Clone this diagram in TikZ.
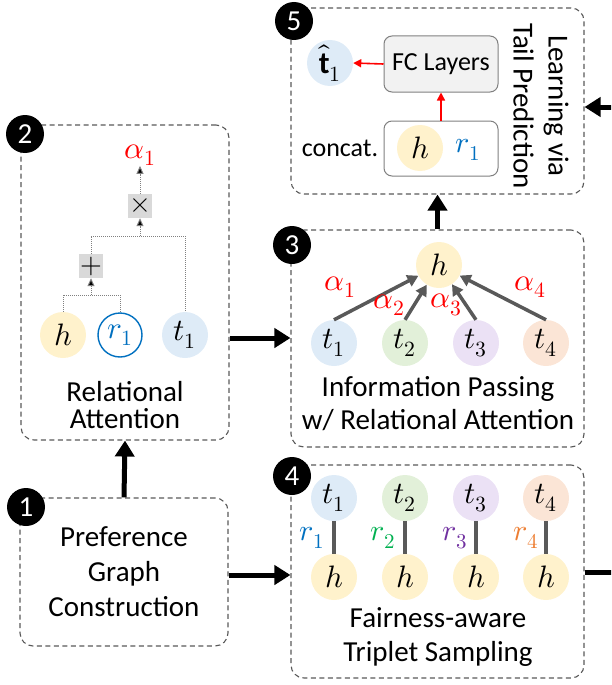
\documentclass[tikz,border=0pt]{standalone}
\usepackage{fontspec}
\usepackage{unicode-math}
\setmainfont{Carlito}
\setmathfont{Latin Modern Math}
\usetikzlibrary{arrows.meta,calc}
\definecolor{hY}{HTML}{FFF2CC}
\definecolor{tB}{HTML}{DEEBF7}
\definecolor{tG}{HTML}{E2F0D9}
\definecolor{tP}{HTML}{EBE1F5}
\definecolor{tO}{HTML}{FBE5D6}
\definecolor{rB}{HTML}{0070C0}
\definecolor{rG}{HTML}{00B050}
\definecolor{rP}{HTML}{7030A0}
\definecolor{rO}{HTML}{ED7D31}
\definecolor{dg}{HTML}{595959}
\definecolor{fcF}{HTML}{F2F2F2}
\definecolor{opF}{HTML}{D9D9D9}
\begin{document}
\begin{tikzpicture}[x=1pt,y=-1pt,
  panel/.style={draw=dg, dash pattern=on 5pt off 3.5pt, line width=1.1pt, rounded corners=13pt, inner sep=0pt},
  badge/.style={circle, fill=black, text=white, minimum size=38pt, inner sep=0pt, font=\fontsize{29}{29}\selectfont},
  ent/.style={circle, minimum size=46pt, inner sep=0pt, font=\fontsize{31}{31}\selectfont},
  lbl/.style={align=center, inner sep=0pt, font=\fontsize{29}{33}\selectfont},
  alab/.style={text=red, inner sep=0pt, font=\fontsize{31}{31}\selectfont},
  rlab/.style={inner sep=0pt, font=\fontsize{30}{30}\selectfont},
  bigarrow/.style={line width=5pt, -{Triangle[length=16pt,width=19pt]}},
  grayarrow/.style={draw=dg, line width=3.5pt, -{Triangle[length=11pt,width=12pt]}},
  grayline/.style={draw=dg, line width=4pt},
  redarrow/.style={draw=red, line width=1.6pt, -{Triangle[length=8pt,width=8pt]}},
  dotline/.style={draw=gray, line width=1pt, dash pattern=on 1pt off 1pt},
  dotarrow/.style={dotline, -{Triangle[length=8pt,width=7pt,fill=black]}},
  opbox/.style={fill=opF, minimum size=24pt, inner sep=0pt, font=\fontsize{28}{28}\selectfont},
  fcbox/.style={rounded corners=8pt, draw=gray, line width=1pt, minimum width=114pt, inner sep=0pt}
]
\useasboundingbox (0,0) rectangle (611,685);
\clip (0,0) rectangle (611,685);

% panels
\node[panel, minimum width=293pt, minimum height=186pt] (p5) at (437.5,101) {};
\node[panel, minimum width=208pt, minimum height=315pt] (p2) at (125,282.5) {};
\node[panel, minimum width=293pt, minimum height=217pt] (p3) at (437.5,338.5) {};
\node[panel, minimum width=208pt, minimum height=148pt] (p1) at (124,572) {};
\node[panel, minimum width=293pt, minimum height=213pt] (p4) at (437.5,571.5) {};

% badges
\node[badge] (b5) at (294,21) {5};
\node[badge] (b2) at (25,134) {2};
\node[badge] (b3) at (292,245) {3};
\node[badge] (b4) at (292,476) {4};
\node[badge] (b1) at (26,507) {1};

% ---- panel 5
\node[ent, fill=tB] (that) at (330,63) {$\hat{\mathbf{t}}_1$};
\node[fcbox, fill=fcF, minimum height=56pt, font=\fontsize{26}{26}\selectfont] (fc) at (441,64) {FC Layers};
\node[fcbox, fill=white, minimum height=55pt] (cc) at (441,148.5) {};
\node[ent, fill=hY] (hc) at (420,148) {$h$};
\node[rlab, text=rB] (rc) at (468,150) {$r_1$};
\node[inner sep=0pt, font=\fontsize{26}{26}\selectfont] (cl) at (340,148) {concat.};
\draw[redarrow] (fc.west) -- (that.east);
\draw[redarrow] (cc.north) -- (fc.south);
\node[lbl, rotate=-90, font=\fontsize{29}{35}\selectfont] (ltp) at (541,106) {Learning via\\Tail Prediction};

% ---- panel 2
\node[alab] (a21) at (140,155) {$\alpha_1$};
\node[opbox] (mul) at (140,206) {$\times$};
\node[opbox] (plus) at (91,266) {$+$};
\node[ent, fill=hY] (h2) at (63,335) {$h$};
\node[ent, draw=rB, line width=1.4pt, fill=white, text=rB, minimum size=44pt] (r2) at (120,335) {$r_1$};
\node[ent, fill=tB] (t2) at (185,335) {$t_1$};
\coordinate (j1) at (91,295);
\coordinate (j2) at (140,236);
\draw[dotline] (h2.north) -- (h2.north |- j1) -| (r2.north);
\draw[dotarrow] (j1) -- (plus.south);
\draw[dotline] (plus.north) -- (plus.north |- j2) -| (t2.north);
\draw[dotarrow] (j2) -- (mul.south);
\draw[dotarrow] (mul.north) -- (a21.south);
\node[lbl, font=\fontsize{29}{27}\selectfont] (ra) at (125,405) {Relational\\Attention};

% ---- panel 3
\node[ent, fill=hY] (h3) at (439,265) {$h$};
\node[ent, fill=tB] (t31) at (334,343) {$t_1$};
\node[ent, fill=tG] (t32) at (405,343) {$t_2$};
\node[ent, fill=tP] (t33) at (476,343) {$t_3$};
\node[ent, fill=tO] (t34) at (546,343) {$t_4$};
\draw[grayarrow] (t31.north) -- (h3);
\draw[grayarrow] (t32.north) -- (h3);
\draw[grayarrow] (t33.north) -- (h3);
\draw[grayarrow] (t34.north) -- (h3);
\node[alab] (a31) at (340,287) {$\alpha_1$};
\node[alab] (a32) at (389,305) {$\alpha_2$};
\node[alab] (a33) at (446,305) {$\alpha_3$};
\node[alab] (a34) at (530,287) {$\alpha_4$};
\node[lbl] (ip) at (438,403.5) {Information Passing\\w/ Relational Attention};

% ---- panel 4
\node[ent, fill=tB] (u1) at (334,498) {$t_1$};
\node[ent, fill=tG] (u2) at (405,498) {$t_2$};
\node[ent, fill=tP] (u3) at (476,498) {$t_3$};
\node[ent, fill=tO] (u4) at (546,498) {$t_4$};
\node[ent, fill=hY] (v1) at (334,577) {$h$};
\node[ent, fill=hY] (v2) at (405,577) {$h$};
\node[ent, fill=hY] (v3) at (476,577) {$h$};
\node[ent, fill=hY] (v4) at (546,577) {$h$};
\draw[grayline] (u1.south) -- (v1.north);
\draw[grayline] (u2.south) -- (v2.north);
\draw[grayline] (u3.south) -- (v3.north);
\draw[grayline] (u4.south) -- (v4.north);
\node[rlab, text=rB] (s1) at (312,538) {$r_1$};
\node[rlab, text=rG] (s2) at (383,538) {$r_2$};
\node[rlab, text=rP] (s3) at (455,538) {$r_3$};
\node[rlab, text=rO] (s4) at (526,538) {$r_4$};
\node[lbl, font=\fontsize{29}{34}\selectfont] (fa) at (438,637) {Fairness-aware\\Triplet Sampling};

% ---- panel 1
\node[lbl, font=\fontsize{29}{35}\selectfont] (pg) at (124,572) {Preference\\Graph\\Construction};

% ---- big arrows
\coordinate (y23) at (0,338);
\coordinate (y14) at (0,575);
\coordinate (y45) at (0,572);
\coordinate (y5) at (0,107);
\coordinate (xr) at (640,0);
\draw[bigarrow] (p1.north) -- (p2.south);
\draw[bigarrow] (p2.east |- y23) -- (p3.west |- y23);
\draw[bigarrow] (p1.east |- y14) -- (p4.west |- y14);
\draw[bigarrow] (p3.north) -- (p5.south);
\draw[bigarrow] (p4.east |- y45) -- (xr |- y45) -- (xr |- y5) -- (p5.east |- y5);
\end{tikzpicture}
\end{document}
